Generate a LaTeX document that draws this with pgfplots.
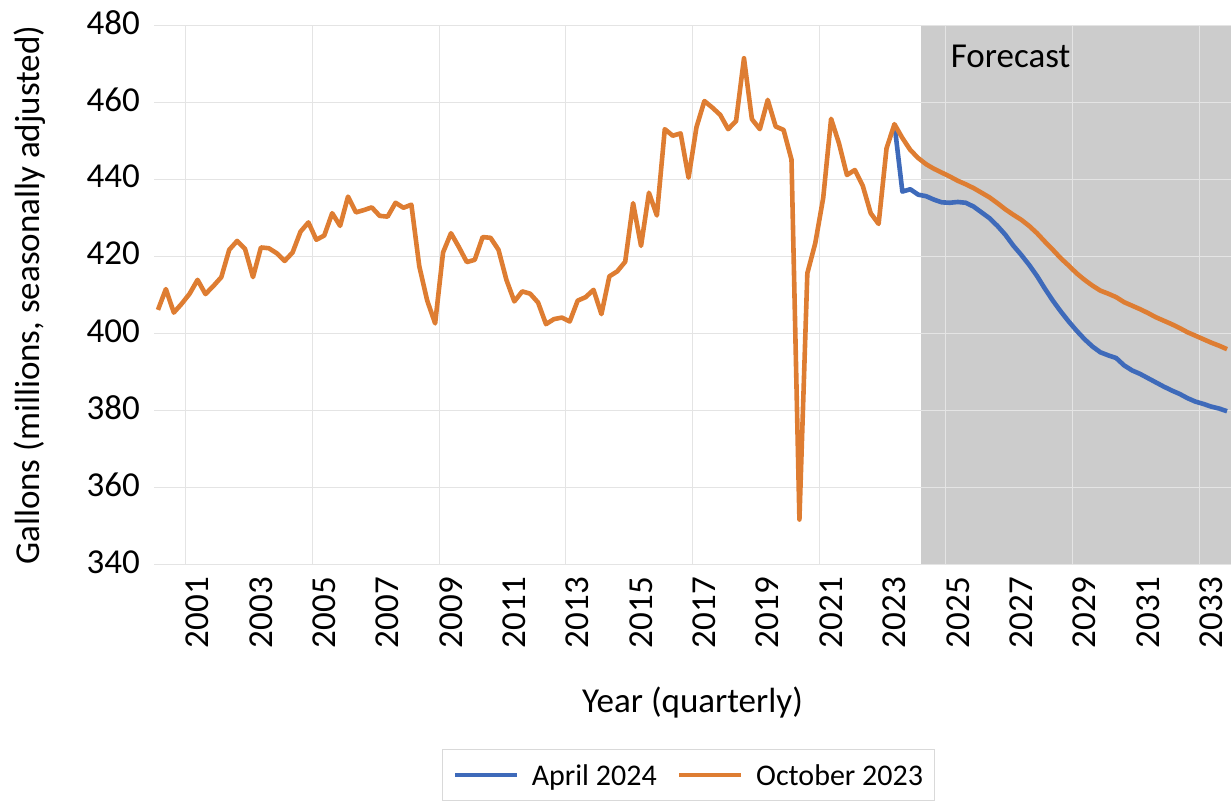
\documentclass[border=0pt]{standalone}
\usepackage{fontspec}
\setmainfont{Carlito}
\usepackage{pgfplots}
\pgfplotsset{compat=1.18}
\definecolor{myorange}{RGB}{222,125,50}
\definecolor{myblue}{RGB}{62,106,186}
\definecolor{shade}{RGB}{204,204,204}
\definecolor{gridc}{RGB}{228,228,228}
\definecolor{legc}{RGB}{217,217,217}

\pgfplotstableread{
i v
0 406.2
1 411.6
2 405.5
3 407.8
4 410.4
5 414.0
6 410.3
7 412.4
8 414.7
9 421.8
10 424.1
11 422.0
12 414.7
13 422.4
14 422.2
15 420.9
16 418.9
17 421.1
18 426.5
19 428.9
20 424.4
21 425.5
22 431.3
23 428.0
24 435.6
25 431.5
26 432.1
27 432.8
28 430.6
29 430.4
30 434.0
31 432.7
32 433.5
33 417.5
34 408.6
35 402.7
36 421.1
37 426.1
38 422.5
39 418.6
40 419.2
41 425.1
42 424.9
43 421.8
44 414.0
45 408.4
46 411.0
47 410.4
48 408.1
49 402.5
50 403.8
51 404.2
52 403.2
53 408.6
54 409.5
55 411.4
56 405.1
57 414.9
58 416.2
59 418.7
60 433.9
61 422.8
62 436.6
63 430.7
64 453.1
65 451.4
66 452.0
67 440.5
68 453.6
69 460.4
70 458.7
71 456.8
72 453.1
73 455.2
74 471.5
75 455.7
76 453.1
77 460.7
78 453.8
79 452.9
80 445.2
81 351.8
82 415.7
83 423.5
84 435.2
85 455.8
86 449.4
87 441.2
88 442.5
89 438.4
90 431.3
91 428.5
92 448.1
93 454.4
94 450.8
95 447.7
96 445.6
97 444.0
98 442.8
99 441.8
100 440.8
101 439.7
102 438.8
103 437.8
104 436.6
105 435.4
106 433.9
107 432.3
108 430.9
109 429.6
110 428.0
111 426.1
112 423.9
113 421.8
114 419.6
115 417.7
116 415.7
117 414.0
118 412.5
119 411.2
120 410.4
121 409.5
122 408.2
123 407.3
124 406.4
125 405.4
126 404.3
127 403.4
128 402.5
129 401.5
130 400.4
131 399.5
132 398.6
133 397.7
134 396.9
135 396.0
}\octdata

\pgfplotstableread{
i v
93 454.4
94 436.9
95 437.5
96 436.1
97 435.7
98 434.8
99 434.1
100 434.0
101 434.2
102 434.0
103 433.0
104 431.5
105 430.0
106 428.0
107 425.7
108 422.9
109 420.5
110 417.9
111 415.0
112 411.7
113 408.6
114 405.8
115 403.2
116 400.8
117 398.6
118 396.7
119 395.2
120 394.4
121 393.7
122 391.8
123 390.5
124 389.6
125 388.5
126 387.4
127 386.3
128 385.3
129 384.4
130 383.3
131 382.4
132 381.8
133 381.1
134 380.6
135 379.9
}\aprdata

\begin{document}
\begin{tikzpicture}[x=1pt,y=1pt]
\begin{axis}[
  set layers=standard,
  at={(154pt,237pt)}, anchor=south west,
  scale only axis, width=1077pt, height=539.5pt,
  xmin=-0.5, xmax=135.5, ymin=340, ymax=480,
  enlargelimits=false,
  axis line style={draw=none},
  tick style={draw=none},
  major tick length=0pt,
  ytick={340,360,...,480},
  ymajorgrids,
  xtick={5,13,21,29,37,45,53,61,69,77,85,93,101,109,117,125,133},
  xticklabels={2001,2003,2005,2007,2009,2011,2013,2015,2017,2019,2021,2023,2025,2027,2029,2031,2033},
  extra x ticks={3.5,19.5,35.5,51.5,67.5,83.5,99.5,115.5,131.5},
  extra x tick labels={},
  extra x tick style={grid=major},
  grid style={draw=gridc, line width=1pt},
  /pgf/number format/assume math mode=true,
  tick label style={font=\fontsize{35}{42}\selectfont, inner sep=0pt},
  yticklabel shift=14pt,
  xticklabel shift=12pt,
  xticklabel style={rotate=90, anchor=east},
  yticklabel style={anchor=east, yshift=3pt},
  every axis y label/.style={at={(axis description cs:-0.1151,0.5)}, rotate=90, anchor=center, font=\fontsize{35}{42}\selectfont},
  every axis x label/.style={at={(axis description cs:0.5,-0.2743)}, anchor=base, font=\fontsize{35}{42}\selectfont},
  ylabel={Gallons (millions, seasonally adjusted)},
  xlabel={Year (quarterly)},
  legend columns=2,
  legend image code/.code={\draw[#1, line width=3.4pt] (0pt,0pt) -- (62pt,0pt);},
  legend style={at={(axis description cs:0.496,-0.341)}, anchor=north,
    draw=legc, line width=1pt, fill=white,
    font=\fontsize{30}{36}\selectfont,
    inner xsep=11pt, inner ysep=15pt,
    nodes={inner sep=0pt, text depth=0pt},
    column sep=13pt,
    /tikz/every even column/.append style={column sep=21pt}},
]
\addplot[draw=none, fill=shade, on layer=axis background, forget plot]
  coordinates {(96.4,340) (135.5,340) (135.5,480) (96.4,480)} -- cycle;
\addplot[myblue, line width=4.6pt, line join=round] table[x=i,y=v] {\aprdata};
\addlegendentry{April 2024}
\addplot[myorange, line width=4.6pt, line join=round] table[x=i,y=v] {\octdata};
\addlegendentry{October 2023}
\node[anchor=base west, font=\fontsize{35}{42}\selectfont, inner sep=0pt] at (axis cs:100.1,469.1) {Forecast};
\end{axis}
\pgfresetboundingbox
\useasboundingbox (0,0) rectangle (1231,802);
\end{tikzpicture}
\end{document}
